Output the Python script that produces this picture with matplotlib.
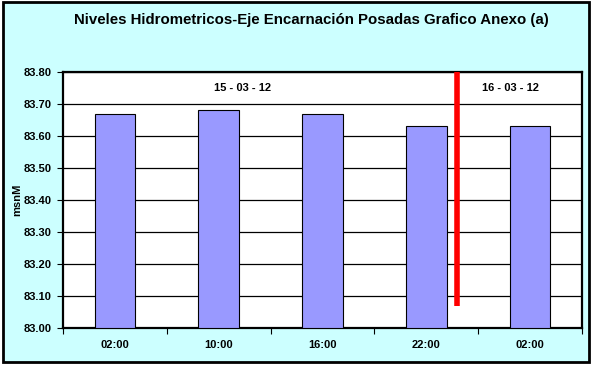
import matplotlib
matplotlib.use("Agg")
import matplotlib.pyplot as plt
from matplotlib.patches import Rectangle

# --- DATA ---
hours = ["02:00", "10:00", "16:00", "22:00", "02:00"]
levels = [83.67, 83.68, 83.67, 83.63, 83.63]
day_labels = ["15 - 03 - 12", "16 - 03 - 12"]
day_label_x = [1.23, 3.81]
day_label_y = 83.75
split_x = 3.3          # day boundary between 22:00 and 02:00
split_bottom = 83.07
base = 83.0

W, H = 594, 368
fig = plt.figure(figsize=(W / 100, H / 100), dpi=100, facecolor="white")

# chart-area background with black frame (behind the axes)
fig.patches.append(Rectangle((3 / W, 6 / H), 586 / W, 360 / H, transform=fig.transFigure,
                             facecolor="#CCFFFF", edgecolor="black", linewidth=2, zorder=-1))

ax = fig.add_axes([63 / W, 40 / H, 519 / W, 256 / H])
ax.set_facecolor("white")

x = range(len(hours))
ax.bar(x, [v - base for v in levels], width=0.39, bottom=base, color="#9999FF",
       edgecolor="black", linewidth=0.8, zorder=3)
ax.set_ylim(base, 83.8)
ax.set_xlim(-0.5, len(hours) - 0.5)

font = dict(fontsize=8, fontweight="bold", family="Liberation Sans")

ticks = [base + 0.1 * i for i in range(9)]
ax.set_yticks(ticks)
ax.set_yticklabels([f"{t:.2f}" for t in ticks], **font)
ax.yaxis.grid(True, color="black", linewidth=0.9, zorder=1)
ax.set_axisbelow(True)

ax.set_xticks([i + 0.5 for i in range(-1, len(hours))], minor=False)
ax.set_xticklabels([""] * (len(hours) + 1))
ax.set_xticks(list(x), minor=True)
ax.set_xticklabels(hours, minor=True, **font)
ax.tick_params(axis="x", which="minor", length=0, pad=9)
ax.tick_params(axis="x", which="major", length=4, direction="out", color="black")
ax.tick_params(axis="y", length=4, direction="out", pad=4)

for s in ax.spines.values():
    s.set_linewidth(1.6)

ax.set_ylabel("msnM", labelpad=1, **font)

# day separator and day labels
ax.plot([split_x, split_x], [split_bottom, 83.8], color="red", linewidth=4,
        solid_capstyle="butt", zorder=4, clip_on=False)
for lx, lab in zip(day_label_x, day_labels):
    ax.text(lx, day_label_y, lab, ha="center", va="center", zorder=5, **font)

fig.text(0.5 + 14 / W, 1 - 20 / H,
         "Niveles Hidrometricos-Eje Encarnación Posadas Grafico Anexo (a)",
         ha="center", va="center", fontsize=10.8, fontweight="bold",
         family="Liberation Sans")

fig.savefig("out.png", dpi=100, facecolor=fig.get_facecolor())
